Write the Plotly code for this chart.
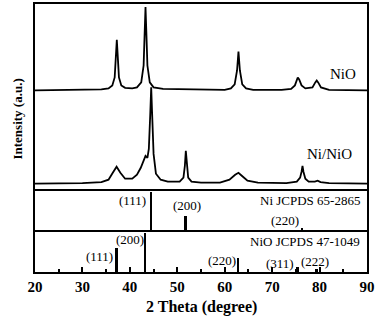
import plotly.graph_objects as go
from plotly.subplots import make_subplots

# XRD patterns (2 theta in degree, intensity in a.u. above each baseline)
nio_2theta = [20, 30, 34, 35.5, 36.3, 36.8, 37.0, 37.25, 37.5, 37.7, 38.2, 39, 40.5, 41.5,
              42.4, 42.9, 43.1, 43.3, 43.5, 43.7, 44.2, 45, 47, 55, 60, 61.3, 62.1, 62.6,
              62.9, 63.2, 63.7, 64.5, 66, 72, 74, 74.8, 75.2, 75.4, 75.7, 76.2, 77, 78.5,
              79.1, 79.4, 79.7, 80.3, 82, 90]
nio_int = [0, 0.5, 1, 2, 5, 13, 30, 51, 30, 13, 5, 2.5, 2, 3,
           8, 25, 55, 84, 55, 25, 8, 3, 1.5, 0.5, 0.5, 2, 6, 20,
           39, 20, 6, 2, 0.5, 0.5, 1.5, 5, 11, 13, 11, 5, 2, 3,
           8, 10, 8, 3, 0.5, 0]

ninio_2theta = [20, 30, 34, 35.5, 36.4, 37.2, 38.0, 39, 40.5, 41.5, 42.3, 42.9, 43.3, 43.7,
                44.0, 44.3, 44.5, 44.7, 45.0, 45.5, 46.5, 48, 50.5, 51.3, 51.6, 51.8, 52.0,
                52.3, 53, 55, 59, 61, 62.2, 62.9, 63.6, 64.8, 67, 73, 75.2, 75.9, 76.2, 76.4,
                76.6, 77, 77.7, 79, 79.6, 80.2, 82, 90]
ninio_int = [0, 0.5, 1.5, 4, 11, 17, 11, 5, 5, 9, 16, 24, 28, 26,
             35, 70, 97, 70, 30, 10, 4, 2, 2, 6, 18, 33, 18,
             6, 2, 1, 1, 4, 9, 11, 8, 3, 1, 0.5, 2, 6, 12, 18,
             12, 5, 2, 2, 3, 1.5, 0.5, 0]

nio_offset = 99
ninio_offset = 5

# reference cards
ni_pos = [44.5, 51.8, 76.4]
ni_rel = [100, 38, 8]
ni_hkl = ["(111)", "(200)", "(220)"]

nio_pos = [37.2, 43.3, 62.9, 75.4, 79.4]
nio_rel = [62, 100, 36, 13, 8]
nio_hkl = ["(111)", "(200)", "(220)", "(311)", "(222)"]

FONT = "Liberation Serif"

fig = make_subplots(rows=3, cols=1, shared_xaxes=True, vertical_spacing=0,
                    row_heights=[186, 42, 42])

fig.add_trace(go.Scatter(x=nio_2theta, y=[v + nio_offset for v in nio_int], mode="lines",
                         line=dict(color="black", width=1.8)), row=1, col=1)
fig.add_trace(go.Scatter(x=ninio_2theta, y=[v + ninio_offset for v in ninio_int], mode="lines",
                         line=dict(color="black", width=1.8)), row=1, col=1)

fig.add_trace(go.Bar(x=ni_pos, y=ni_rel, width=0.4, marker=dict(color="black", line_width=0)),
              row=2, col=1)
fig.add_trace(go.Bar(x=nio_pos, y=nio_rel, width=0.4, marker=dict(color="black", line_width=0)),
              row=3, col=1)

txt = dict(family=FONT, size=13, color="black")
big = dict(family=FONT, size=15, color="black")

# sample names
fig.add_annotation(x=85.0, y=115, xref="x", yref="y", text="NiO", showarrow=False, font=big)
fig.add_annotation(x=82.1, y=35, xref="x", yref="y", text="Ni/NiO", showarrow=False, font=big)

# card names
fig.add_annotation(x=89.0, y=77, xref="x2", yref="y2", text="Ni JCPDS 65-2865",
                   showarrow=False, xanchor="right", font=txt)
fig.add_annotation(x=89.0, y=80, xref="x3", yref="y3", text="NiO JCPDS 47-1049",
                   showarrow=False, xanchor="right", font=txt)

# hkl labels
ni_lab_xy = [(40.5, 77), (52.0, 64), (72.7, 26)]
for (lx, ly), t in zip(ni_lab_xy, ni_hkl):
    fig.add_annotation(x=lx, y=ly, xref="x2", yref="y2", text=t, showarrow=False, font=txt)
nio_lab_xy = [(33.7, 39), (40.0, 85), (59.4, 31), (71.7, 21), (79.1, 26)]
for (lx, ly), t in zip(nio_lab_xy, nio_hkl):
    fig.add_annotation(x=lx, y=ly, xref="x3", yref="y3", text=t, showarrow=False, font=txt)

# axis titles
fig.add_annotation(x=-0.082, y=0.57, xref="paper", yref="paper", text="<b>Intensity (a.u.)</b>",
                   textangle=-90, showarrow=False, font=dict(family=FONT, size=13, color="black"))
fig.add_annotation(x=0.5, y=-0.13, xref="paper", yref="paper", yanchor="middle",
                   text="<b>2 Theta (degree)</b>", showarrow=False,
                   font=dict(family=FONT, size=16, color="black"))

line_style = dict(showline=True, linecolor="black", linewidth=1.5,
                  showgrid=False, zeroline=False)
fig.update_xaxes(range=[20, 90], **line_style)
fig.update_xaxes(mirror=True, showticklabels=False, ticks="", row=1, col=1)
fig.update_xaxes(mirror=False, showticklabels=False, ticks="", row=2, col=1)
fig.update_xaxes(mirror=False, tickmode="array", tickvals=[20, 30, 40, 50, 60, 70, 80, 90],
                 ticks="inside", ticklen=5, tickwidth=1.5, tickcolor="black",
                 minor=dict(tickvals=[25, 35, 45, 55, 65, 75, 85], ticks="inside",
                            ticklen=3, tickwidth=1.5, tickcolor="black"),
                 tickfont=dict(family=FONT, size=15, color="black", weight="bold"),
                 row=3, col=1)
fig.update_yaxes(showticklabels=False, ticks="", mirror=True, **line_style)
fig.update_yaxes(range=[0, 186], row=1, col=1)
fig.update_yaxes(range=[0, 108], row=2, col=1)
fig.update_yaxes(range=[0, 108], row=3, col=1)

fig.update_layout(width=377, height=325, showlegend=False, bargap=0,
                  margin=dict(l=35, r=9, t=2, b=53),
                  plot_bgcolor="white", paper_bgcolor="white")

fig.write_html("out.html", config={"displayModeBar": False},
               post_script="document.body.style.margin='0';")
